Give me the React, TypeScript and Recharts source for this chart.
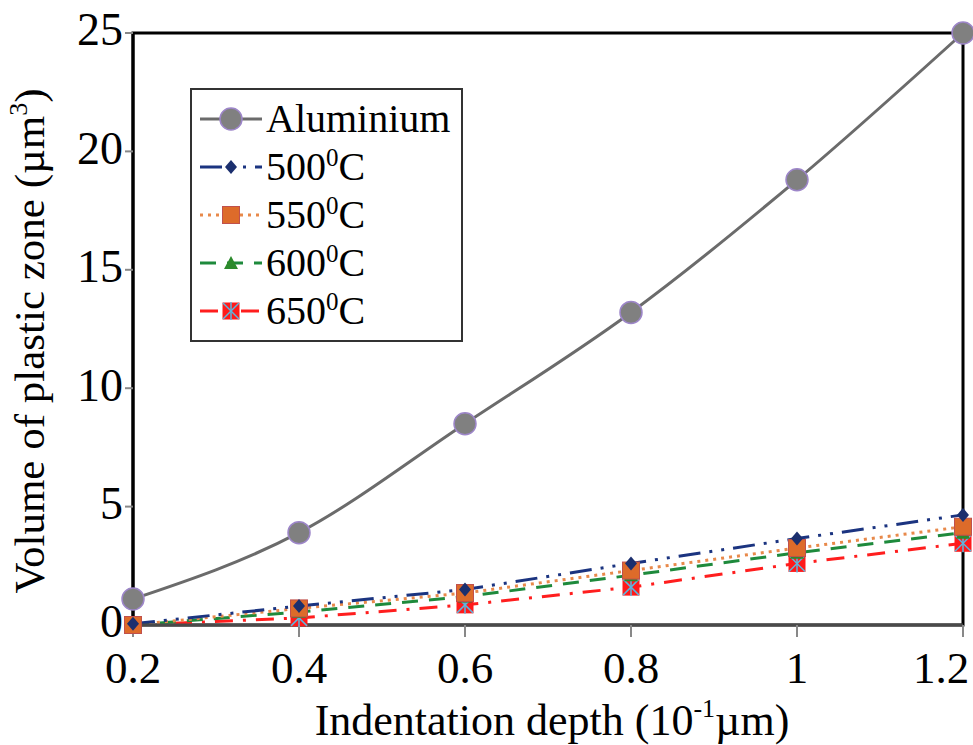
import React from 'react';
import {
  LineChart, Line, XAxis, YAxis, Legend, ReferenceArea, Label,
} from 'recharts';

// Indentation depth (10^-1 µm)
const depth = [0.2, 0.4, 0.6, 0.8, 1.0, 1.2];
// Volume of plastic zone (µm^3)
const aluminium = [1.1, 3.9, 8.5, 13.2, 18.8, 25.0];
const t500 = [0.05, 0.8, 1.5, 2.6, 3.65, 4.65];
const t550 = [0.0, 0.7, 1.35, 2.3, 3.25, 4.15];
const t600 = [0.0, 0.55, 1.2, 2.1, 3.05, 3.9];
const t650 = [0.0, 0.3, 0.85, 1.6, 2.6, 3.45];

const xTicks = [0.2, 0.4, 0.6, 0.8, 1, 1.2];
const yTicks = [0, 5, 10, 15, 20, 25];

const FONT = '"Liberation Serif", "Times New Roman", serif';

const SERIES = [
  { key: 'aluminium', name: 'Aluminium', temp: '', color: '#6b6b6b', dash: undefined, shape: 'circle', smooth: true },
  { key: 't500', name: '500', temp: 'C', color: '#1b3480', dash: '22 9 3 9 3 9', shape: 'diamond', smooth: false },
  { key: 't550', name: '550', temp: 'C', color: '#e8894a', dash: '3 5', shape: 'square', smooth: false },
  { key: 't600', name: '600', temp: 'C', color: '#1e8a3c', dash: '16 11', shape: 'triangle', smooth: false },
  { key: 't650', name: '650', temp: 'C', color: '#ff1e1e', dash: '18 10 3 10', shape: 'xsquare', smooth: false },
];

const data = depth.map((d, i) => ({
  depth: d,
  aluminium: aluminium[i],
  t500: t500[i],
  t550: t550[i],
  t600: t600[i],
  t650: t650[i],
}));

function Marker({ shape, cx, cy }: { shape: string; cx: number; cy: number }) {
  switch (shape) {
    case 'circle':
      return <circle cx={cx} cy={cy} r={11} fill="#808080" stroke="#9d86c9" strokeWidth={1.5} />;
    case 'diamond':
      return <polygon points={`${cx},${cy - 7} ${cx + 6},${cy} ${cx},${cy + 7} ${cx - 6},${cy}`} fill="#1b2f6e" />;
    case 'square':
      return <rect x={cx - 8.5} y={cy - 8.5} width={17} height={17} fill="#dd6b2a" stroke="#c0504d" strokeWidth={1} />;
    case 'triangle':
      return <polygon points={`${cx},${cy - 7} ${cx + 7},${cy + 6} ${cx - 7},${cy + 6}`} fill="#2c8a2c" />;
    case 'xsquare':
      return (
        <g>
          <rect x={cx - 8.5} y={cy - 8.5} width={17} height={17} fill="#ff1a1a" />
          <line x1={cx - 8} y1={cy - 8} x2={cx + 8} y2={cy + 8} stroke="#5bb8e0" strokeWidth={1.5} />
          <line x1={cx - 8} y1={cy + 8} x2={cx + 8} y2={cy - 8} stroke="#5bb8e0" strokeWidth={1.5} />
          <line x1={cx} y1={cy - 9} x2={cx} y2={cy + 9} stroke="#5bb8e0" strokeWidth={1.5} />
        </g>
      );
    default:
      return null;
  }
}

function XTick({ x, y, payload }: any) {
  // the last label sits against the right edge, as in the original
  const shift = payload.value === 1.2 ? -22 : 0;
  return (
    <text x={x + shift} y={y} dy="0.71em" textAnchor="middle" fontSize={45} fontFamily={FONT} fill="#000">
      {payload.value}
    </text>
  );
}

function YTick({ x, y, payload }: any) {
  return (
    <text x={x} y={y - 4} dy="0.355em" textAnchor="end" fontSize={46} fontFamily={FONT} fill="#000">
      {payload.value}
    </text>
  );
}

function renderLegend() {
  return (
    <div
      style={{
        border: '2px solid #333',
        background: '#fff',
        width: 269,
        padding: '5px 0',
        fontFamily: FONT,
        fontSize: 40,
        color: '#000',
      }}
    >
      {SERIES.map((s) => (
        <div key={s.key} style={{ display: 'flex', alignItems: 'center', height: 48 }}>
          <svg width={62} height={24} style={{ marginLeft: 8, marginRight: 4 }}>
            <line x1={0} y1={12} x2={62} y2={12} stroke={s.color} strokeWidth={3} strokeDasharray={s.dash} />
            <Marker shape={s.shape} cx={31} cy={12} />
          </svg>
          <span style={{ lineHeight: 1 }}>
            {s.name}
            {s.temp && <sup style={{ fontSize: 25, verticalAlign: 'top', position: 'relative', top: -2 }}>0</sup>}
            {s.temp}
          </span>
        </div>
      ))}
    </div>
  );
}

export default function App() {
  return (
    <div style={{ position: 'absolute', left: 0, top: 0, background: '#fff' }}>
      <LineChart width={973} height={745} data={data} margin={{ top: 33, right: 10, left: 0, bottom: 0 }}>
        <ReferenceArea x1={0.2} x2={1.2} y1={0} y2={25} fill="none" stroke="#000" strokeWidth={3} ifOverflow="visible" />
        <XAxis
          dataKey="depth"
          type="number"
          domain={[0.2, 1.2]}
          ticks={xTicks}
          height={120}
          tickSize={12}
          tickMargin={14}
          stroke="#4a4a4a"
          strokeWidth={3}
          tickLine={{ stroke: '#888', strokeWidth: 2 }}
          tick={<XTick />}
          interval={0}
        >
          <Label
            content={({ viewBox }: any) => (
              <text
                x={viewBox.x + viewBox.width / 2 + 4}
                y={viewBox.y + viewBox.height - 10}
                textAnchor="middle"
                fontSize={44}
                fontFamily={FONT}
                fill="#000"
              >
                Indentation depth (10
                <tspan fontSize={26} dy={-18}>-1</tspan>
                <tspan dy={18}>µm)</tspan>
              </text>
            )}
          />
        </XAxis>
        <YAxis
          type="number"
          domain={[0, 25]}
          ticks={yTicks}
          width={133}
          tickSize={8}
          tickMargin={2}
          stroke="#000"
          strokeWidth={3}
          tickLine={{ stroke: '#888', strokeWidth: 2 }}
          tick={<YTick />}
          interval={0}
        >
          <Label
            content={({ viewBox }: any) => {
              const cx = 44;
              const cy = viewBox.y + viewBox.height / 2 + 12;
              return (
                <text
                  x={cx}
                  y={cy}
                  transform={`rotate(-90 ${cx} ${cy})`}
                  textAnchor="middle"
                  fontSize={43}
                  fontFamily={FONT}
                  fill="#000"
                >
                  Volume of plastic zone (µm
                  <tspan fontSize={26} dy={-17}>3</tspan>
                  <tspan dy={17}>)</tspan>
                </text>
              );
            }}
          />
        </YAxis>
        <Legend
          layout="vertical"
          align="center"
          verticalAlign="middle"
          wrapperStyle={{ left: 190, top: 88, width: 273 }}
          content={renderLegend}
        />
        {SERIES.map((s) => (
          <Line
            key={s.key}
            dataKey={s.key}
            name={s.name}
            type={s.smooth ? 'monotone' : 'linear'}
            stroke={s.color}
            strokeWidth={3}
            strokeDasharray={s.dash}
            isAnimationActive={false}
            activeDot={false}
            dot={(p: any) => <Marker key={`${s.key}-${p.index}`} shape={s.shape} cx={p.cx} cy={p.cy} />}
          />
        )).reverse()}
      </LineChart>
    </div>
  );
}
